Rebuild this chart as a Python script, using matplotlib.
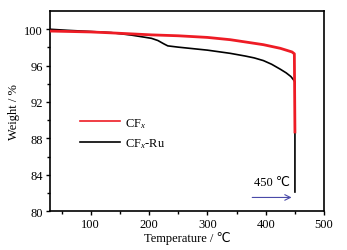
import matplotlib
matplotlib.use("Agg")
import matplotlib.pyplot as plt

plt.rcParams['font.family'] = ['Liberation Serif', 'DejaVu Sans']
plt.rcParams['mathtext.fontset'] = 'custom'
plt.rcParams['mathtext.rm'] = 'Liberation Serif'
plt.rcParams['mathtext.it'] = 'Liberation Serif:italic'

# CFx-Ru (black)
t_ru = [30, 60, 100, 135, 170, 204, 215, 225, 232, 250, 300, 339, 365, 380, 396, 410, 425, 435, 443, 448, 450, 450]
w_ru = [100.0, 99.88, 99.75, 99.63, 99.35, 99.0, 98.76, 98.4, 98.17, 98.03, 97.7, 97.35, 97.05, 96.85, 96.55, 96.15, 95.6, 95.2, 94.8, 94.4, 94.2, 82.1]

# CFx (red)
t_cf = [30, 100, 135, 204, 250, 300, 339, 365, 396, 425, 445, 449, 450]
w_cf = [99.8, 99.7, 99.6, 99.38, 99.28, 99.1, 98.85, 98.6, 98.3, 97.9, 97.5, 97.3, 88.7]

labels = ['CF$_{\\mathit{x}}$', 'CF$_{\\mathit{x}}$-Ru']
xticks = [100, 200, 300, 400, 500]
yticks = [80, 84, 88, 92, 96, 100]

fig = plt.figure(figsize=(3.47, 2.51), dpi=100)
ax = fig.add_axes([0.144, 0.155, 0.790, 0.797])

l_ru, = ax.plot(t_ru, w_ru, color='black', lw=1.2, zorder=2)
l_cf, = ax.plot(t_cf, w_cf, color='#ee1c25', lw=2.0, zorder=3)

ax.set_xlim(30, 500)
ax.set_ylim(80, 102)
ax.set_xticks(xticks)
ax.set_yticks(yticks)
ax.set_xticks([50, 150, 250, 350, 450], minor=True)
ax.set_yticks([82, 86, 90, 94, 98], minor=True)
ax.tick_params(which='both', direction='out', width=1, labelsize=9, pad=2)
ax.tick_params(which='major', length=3)
ax.tick_params(which='minor', length=2)
for s in ax.spines.values():
    s.set_linewidth(1.2)

ax.set_xlabel('Temperature / ℃', fontsize=9, labelpad=1)
ax.set_ylabel('Weight / %', fontsize=9, labelpad=3)

leg = ax.legend([l_cf, l_ru], labels, loc='center left', bbox_to_anchor=(0.07, 0.39),
                frameon=False, fontsize=9, handlelength=3.2, handletextpad=0.4, labelspacing=0.55)
for h in leg.get_lines():
    h.set_linewidth(1.2)

ax.annotate('', xy=(449, 81.5), xytext=(372, 81.5),
            arrowprops=dict(arrowstyle='->', color='#4a4aa8', lw=0.8))
ax.text(410, 82.5, '450 ℃', fontsize=9, ha='center', va='bottom')

fig.savefig('out.png', dpi=100)
